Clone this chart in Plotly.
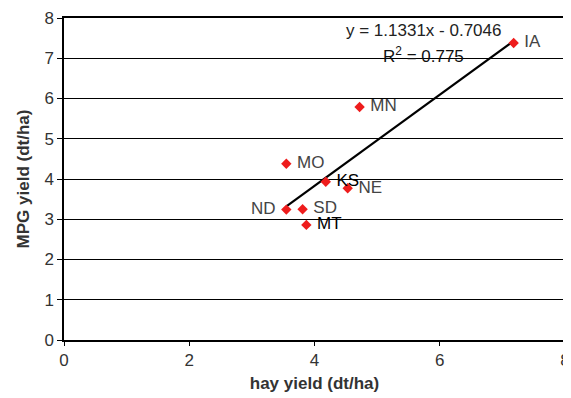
import plotly.graph_objects as go

states = ["IA", "MN", "MO", "KS", "NE", "ND", "SD", "MT"]
hay_yield = [7.18, 4.72, 3.55, 4.18, 4.53, 3.55, 3.81, 3.87]
mpg_yield = [7.38, 5.79, 4.38, 3.93, 3.77, 3.24, 3.25, 2.86]
label_pos = ["middle right", "middle right", "middle right", "middle right",
             "middle right", "middle left", "middle right", "middle right"]
label_col = ["#444", "#444", "#444", "#000", "#444", "#444", "#444", "#000"]
slope, intercept, r2 = 1.1331, -0.7046, 0.775

pad = "\u00a0"
labels = [(s + pad) if p == "middle left" else (pad + s) for s, p in zip(states, label_pos)]

FONT = "Liberation Sans, Arial"
fig = go.Figure()
x0, x1 = min(hay_yield), max(hay_yield)
fig.add_trace(go.Scatter(x=[x0, x1], y=[slope * x0 + intercept, slope * x1 + intercept],
                         mode="lines", line=dict(color="black", width=2.2),
                         hoverinfo="skip", showlegend=False))
fig.add_trace(go.Scatter(x=hay_yield, y=mpg_yield, mode="markers+text", text=labels,
                         textposition=label_pos,
                         textfont=dict(family=FONT, size=17, color=label_col),
                         marker=dict(symbol="diamond", color="#ee1c1c", size=8),
                         showlegend=False))
fig.add_annotation(x=5.74, y=7.70, xref="x", yref="y",
                   text=f"y = {slope}x - {abs(intercept)}", showarrow=False,
                   font=dict(family=FONT, size=17, color="#222"))
fig.add_annotation(x=5.74, y=7.08, xref="x", yref="y",
                   text=f"R<sup>2</sup> = {r2}", showarrow=False,
                   font=dict(family=FONT, size=17, color="#111"))

fig.update_layout(
    width=563, height=390,
    margin=dict(l=56, r=1, t=10, b=58),
    paper_bgcolor="white", plot_bgcolor="white",
    font=dict(family=FONT, size=17, color="#333"),
    xaxis=dict(range=[0, 8], dtick=2, showgrid=False, zeroline=False,
               showline=True, linecolor="black", linewidth=1.5, mirror=True,
               ticks="outside", ticklen=4, tickcolor="black", ticklabeloverflow="allow",
               title=dict(text="<b>hay yield (dt/ha)</b>", standoff=8,
                          font=dict(size=17, color="#333"))),
    yaxis=dict(range=[0, 8], dtick=1, showgrid=True, gridcolor="black", gridwidth=1,
               zeroline=False, showline=True, linecolor="black", linewidth=1.5, mirror=True,
               ticks="outside", ticklen=5, tickcolor="black",
               title=dict(text="<b>MPG yield (dt/ha)</b>", standoff=10,
                          font=dict(size=17, color="#333"))),
)
fig.write_html("out.html")
